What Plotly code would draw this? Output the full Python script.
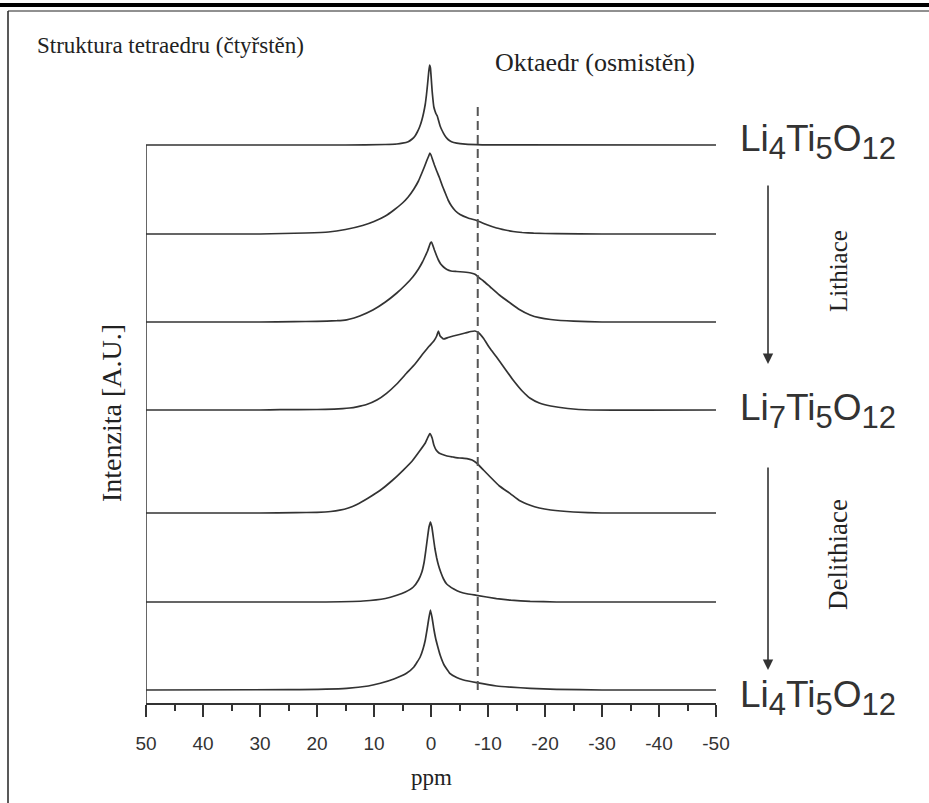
import plotly.graph_objects as go

# ---------------- data ----------------
# chemical shift (ppm) and intensity (arbitrary units, peak ~ 80)
s1_ppm = [50, 15, 8, 6, 5, 4, 3.3, 2.8, 2.4, 2.0, 1.6, 1.3, 1.0, 0.8, 0.6, 0.4, 0.25, 0.1, -0.05, -0.2, -0.35, -0.5, -0.7, -0.9, -1.1, -1.3, -1.6, -1.9, -2.2, -2.6, -3.0, -3.6, -4.5, -6, -9, -50]
s1_int = [0, 0, 0.5, 1, 1.8, 3.3, 6, 9, 13, 18, 25, 32, 41, 50, 61, 73, 80, 77, 66, 54, 45, 38, 34, 31, 29, 25, 19, 15, 11.7, 8, 5.5, 3.3, 1.8, 0.8, 0.2, 0]

s2_ppm = [50, 30, 26, 22, 18, 15, 12, 10, 8, 6.5, 5, 4, 3, 2.2, 1.6, 1.1, 0.7, 0.4, 0.2, 0, -0.3, -0.6, -1.0, -1.5, -2.0, -2.5, -3.0, -3.6, -4.3, -5.1, -6.5, -8, -9.7, -11.5, -13, -14.4, -16, -18, -22, -30, -50]
s2_int = [0, 0, 0.5, 1, 2, 4.5, 8.5, 12.5, 18, 24, 31, 37, 45, 53, 61, 68, 74, 78, 81, 79, 74, 69, 63, 56, 48, 41, 34, 28, 23, 19.5, 16, 13.5, 9.5, 6, 4, 2.5, 1.5, 0.8, 0.3, 0, 0]

s3_ppm = [50, 30, 24, 20, 16.5, 14.8, 13.5, 12.5, 10.2, 8, 6, 4.5, 3.2, 2.2, 1.5, 1.0, 0.6, 0.3, 0.1, -0.1, -0.3, -0.6, -1.0, -1.3, -1.7, -2.2, -2.8, -3.5, -4.5, -5.7, -7, -7.8, -8.5, -9.2, -10.4, -12, -13.9, -15.5, -17.4, -19, -21, -25, -30, -50]
s3_int = [0, 0, 0.3, 0.7, 1.3, 2.2, 4, 6, 12, 20, 29, 37, 45, 53, 60, 66, 71, 76, 79, 80, 77, 72, 66, 62, 58, 55, 52.5, 51, 50.5, 50, 49, 47.5, 44, 41, 35, 27, 19, 12.5, 7, 4.3, 2.5, 0.8, 0, 0]

s4_ppm = [50, 30, 26.5, 20, 17, 15.5, 14.3, 13, 11.3, 9.5, 7.8, 6, 4.3, 2.8, 1.35, 0.3, -0.5, -1.0, -1.3, -1.6, -2.2, -3, -3.9, -5, -6.0, -7, -7.7, -8.4, -9.2, -10.3, -11.5, -13, -14.4, -16, -17.4, -19, -21, -24, -28, -50]
s4_int = [0, 0, 0.3, 0.5, 0.8, 1.3, 2, 3.2, 5.5, 10, 16.7, 26, 36.7, 46, 56.7, 64, 69, 74, 79, 74, 71, 72.5, 74, 75.5, 77, 78.5, 79, 77, 71.7, 62, 53, 41, 30, 19, 11.7, 7, 4, 1.5, 0, 0]

s5_ppm = [50, 30, 23.7, 20, 17.6, 16, 14.5, 13, 11, 8.9, 6.9, 4.9, 3.3, 1.9, 1.0, 0.6, 0.2, -0.2, -0.5, -0.9, -1.4, -1.9, -2.8, -3.9, -5, -6.3, -7.2, -8, -9.2, -10.4, -12, -13.9, -15.5, -17.4, -19, -21, -25, -30, -50]
s5_int = [0, 0, 0.3, 0.7, 1.5, 2.8, 5, 8.5, 15, 22.7, 32, 42.7, 52, 62.7, 70, 75, 79.4, 75, 68, 63, 60, 58.7, 57, 56, 55, 54.4, 53, 50, 43, 36, 27, 19.4, 12.5, 7.7, 5, 3, 1, 0, 0]

s6_ppm = [50, 20, 11.9, 8, 6, 4.5, 3.1, 2.2, 1.6, 1.2, 0.9, 0.6, 0.35, 0.1, -0.15, -0.4, -0.7, -1.0, -1.3, -1.7, -2.2, -2.75, -4, -5.1, -6.5, -8, -11.5, -14, -17.4, -22, -50]
s6_int = [0, 0, 1, 3.5, 6.7, 10, 15, 22, 30, 40, 52, 65, 75, 80, 75, 65, 53, 44, 37, 30, 23, 18, 13, 10, 8, 6.7, 3.4, 1.8, 0.7, 0, 0]

s7_ppm = [50, 25, 14.8, 11, 8.9, 6.5, 4.3, 3, 1.9, 1.4, 1.0, 0.7, 0.4, 0.1, -0.2, -0.5, -0.8, -1.2, -1.6, -2.3, -3.3, -4.5, -5.7, -8, -11.5, -14, -17.4, -22, -30, -50]
s7_int = [0, 0.3, 1.7, 4, 6.7, 11, 16.7, 23, 33, 41, 50, 60, 71, 80, 72, 61, 52, 43, 35, 25, 16.7, 12.5, 10, 7.3, 4, 2.8, 1.7, 0.7, 0, 0]

# vertical stacking offsets of the spectra (A.U.)
stack_offsets = [558, 469, 381, 293, 190, 101, 13]

# octahedral site position (ppm)
octa_ppm = -8.2

x_ticks = [50, 40, 30, 20, 10, 0, -10, -20, -30, -40, -50]
x_ticklabels = ["50", "40", "30", "20", "10", "0", "-10", "-20", "-30", "-40", "-50"]

# phase labels: (element, subscript) pairs
phase_labels = [[("Li", "4"), ("Ti", "5"), ("O", "12")],
                [("Li", "7"), ("Ti", "5"), ("O", "12")],
                [("Li", "4"), ("Ti", "5"), ("O", "12")]]

spectra = [(s1_ppm, s1_int), (s2_ppm, s2_int), (s3_ppm, s3_int), (s4_ppm, s4_int),
           (s5_ppm, s5_int), (s6_ppm, s6_int), (s7_ppm, s7_int)]

# ---------------- figure ----------------
W, H = 929, 803
ML, MR, MT, MB = 146, 213, 20, 100
PW, PH = W - ML - MR, H - MT - MB

def px(x):
    return (x - ML) / PW

def py(y):
    return (H - MB - y) / PH

LINE = "#333333"
TXT = "#222222"
SERIF = "Liberation Serif, Times New Roman, serif"
SANS = "Liberation Sans, Arial, sans-serif"

fig = go.Figure()
for (xs, ys), off in zip(spectra, stack_offsets):
    fig.add_trace(go.Scatter(
        x=xs, y=[v + off for v in ys], mode="lines",
        line=dict(color=LINE, width=1.7, shape="spline", smoothing=0.35),
        showlegend=False, hoverinfo="skip"))

shapes = [
    dict(type="line", xref="x", yref="y", x0=50, x1=50, y0=0, y1=stack_offsets[0],
         line=dict(color=LINE, width=1.5)),
    dict(type="line", xref="x", yref="y", x0=octa_ppm, x1=octa_ppm,
         y0=stack_offsets[-1], y1=stack_offsets[0] + 40,
         line=dict(color="#555555", width=2, dash="9px,5px")),
    dict(type="line", xref="paper", yref="paper", x0=px(0), x1=px(W), y0=py(5), y1=py(5),
         line=dict(color="black", width=4)),
    dict(type="line", xref="paper", yref="paper", x0=px(8), x1=px(W), y0=py(11), y1=py(11),
         line=dict(color="#222222", width=1.2)),
    dict(type="line", xref="paper", yref="paper", x0=px(8), x1=px(8), y0=py(11), y1=py(H),
         line=dict(color="#222222", width=1.5)),
]

annotations = [
    dict(text="Struktura tetraedru (čtyřstěn)", xref="paper", yref="paper",
         x=px(35), y=py(45), xanchor="left", yanchor="middle", showarrow=False,
         font=dict(family=SERIF, size=23, color=TXT)),
    dict(text="Oktaedr (osmistěn)", xref="paper", yref="paper",
         x=px(493), y=py(63), xanchor="left", yanchor="middle", showarrow=False,
         font=dict(family=SERIF, size=26, color=TXT)),
    dict(text="Intenzita [A.U.]", xref="paper", yref="paper", x=px(112), y=py(413),
         xanchor="center", yanchor="middle", showarrow=False, textangle=-90,
         font=dict(family=SERIF, size=28, color=TXT)),
    dict(text="ppm", xref="paper", yref="paper", x=px(431), y=py(777),
         xanchor="center", yanchor="middle", showarrow=False,
         font=dict(family=SERIF, size=23, color=TXT)),
    dict(text="Lithiace", xref="paper", yref="paper", x=px(838), y=py(271),
         xanchor="center", yanchor="middle", showarrow=False, textangle=-90,
         font=dict(family=SERIF, size=25, color=TXT)),
    dict(text="Delithiace", xref="paper", yref="paper", x=px(838), y=py(555),
         xanchor="center", yanchor="middle", showarrow=False, textangle=-90,
         font=dict(family=SERIF, size=27, color=TXT)),
    dict(text="", xref="paper", yref="paper", x=px(768), y=py(364), ax=0, ay=-180,
         showarrow=True, arrowhead=2, arrowsize=1.3, arrowwidth=1.6, arrowcolor="#333333"),
    dict(text="", xref="paper", yref="paper", x=px(768), y=py(670), ax=0, ay=-204,
         showarrow=True, arrowhead=2, arrowsize=1.3, arrowwidth=1.6, arrowcolor="#333333"),
]
label_y = [142, 411, 698]
for parts, yy in zip(phase_labels, label_y):
    txt = "".join(f"{el}<sub><span style='font-size:31px'>{n}</span></sub>" for el, n in parts)
    annotations.append(dict(text=txt, xref="paper", yref="paper", x=px(738), y=py(yy),
                            xanchor="left", yanchor="middle", showarrow=False,
                            font=dict(family=SANS, size=37, color="#333333")))

fig.update_layout(
    width=W, height=H, margin=dict(l=ML, r=MR, t=MT, b=MB),
    paper_bgcolor="white", plot_bgcolor="white",
    shapes=shapes, annotations=annotations,
    xaxis=dict(range=[50, -50], showgrid=False, zeroline=False,
               showline=True, linecolor=LINE, linewidth=1.5,
               ticks="outside", ticklen=12, tickwidth=1.5, tickcolor=LINE,
               tickvals=x_ticks, ticktext=x_ticklabels, ticklabelstandoff=10,
               minor=dict(ticks="outside", ticklen=6, tickwidth=1.5, tickcolor=LINE, dtick=5),
               tickfont=dict(family="Liberation Sans Narrow, Liberation Sans, Arial, sans-serif",
                             size=19, color="#333333")),
    yaxis=dict(range=[0, PH], showgrid=False, zeroline=False, showline=False,
               showticklabels=False, ticks=""),
)

fig.write_html("out.html", config={"displayModeBar": False},
               post_script="document.body.style.margin='0px';")
